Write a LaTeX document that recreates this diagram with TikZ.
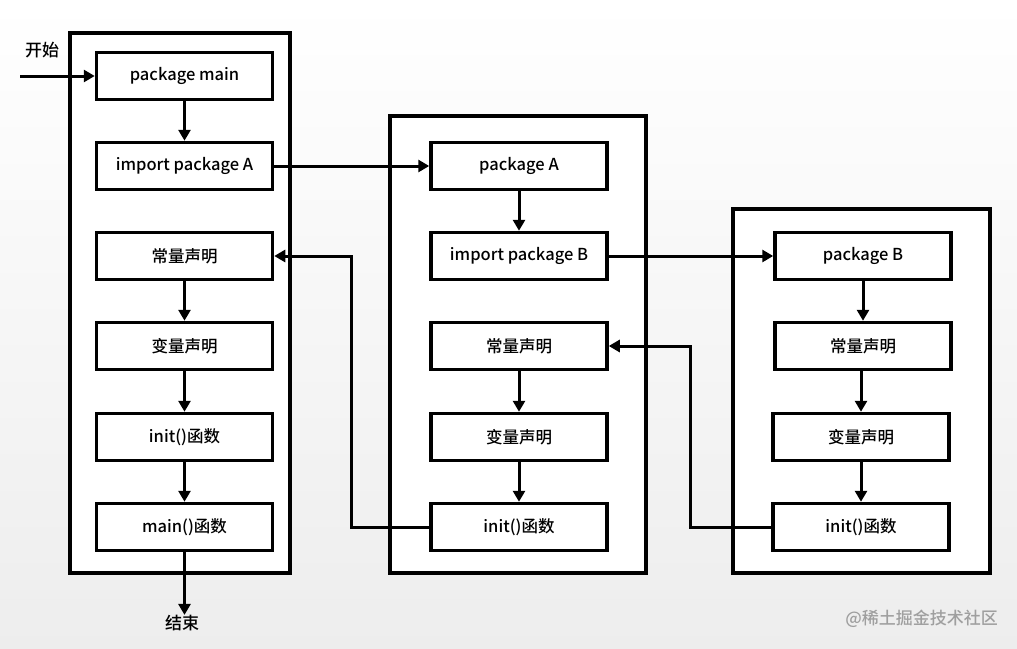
\documentclass[tikz,border=0pt]{standalone}
\usepackage{fontspec}
\setmainfont{Noto Sans CJK SC}[UprightFont=* Medium]
\usetikzlibrary{arrows.meta}
\begin{document}
\begin{tikzpicture}[x=1pt,y=-1pt,
  stepbox/.style={draw, line width=3.5pt, fill=white, minimum width=176pt, minimum height=47pt, inner sep=0pt, font=\fontsize{16.5}{18}\selectfont},
  outerbox/.style={draw, line width=3.5pt, fill=white},
  arr/.style={line width=3pt, -{Triangle[length=11pt,width=12pt]}},
  lbl/.style={font=\fontsize{17}{19}\selectfont, inner sep=0pt}]
\shade[top color=white, bottom color=gray!14] (0,0) rectangle (1017,648);
\useasboundingbox (0,0) rectangle (1017,648);
% outer containers
\draw[outerbox] (70,33) rectangle (290,573);
\draw[outerbox] (390,116) rectangle (646,573);
\draw[outerbox] (733,209) rectangle (990,573);
% column 1
\node[stepbox] (c1pkg) at (184.5,76) {package main};
\node[stepbox] (c1imp) at (184.5,166) {import package A};
\node[stepbox] (c1const) at (184.5,256) {常量声明};
\node[stepbox] (c1var) at (184.5,346) {变量声明};
\node[stepbox] (c1init) at (184.5,437) {init()函数};
\node[stepbox] (c1main) at (184.5,527) {main()函数};
% column 2
\node[stepbox] (c2pkg) at (519,166) {package A};
\node[stepbox] (c2imp) at (519,256) {import package B};
\node[stepbox] (c2const) at (519,346) {常量声明};
\node[stepbox] (c2var) at (519,437) {变量声明};
\node[stepbox] (c2init) at (519,527) {init()函数};
% column 3
\node[stepbox] (c3pkg) at (863,256) {package B};
\node[stepbox] (c3const) at (863,346) {常量声明};
\node[stepbox] (c3var) at (861,437) {变量声明};
\node[stepbox] (c3init) at (861,527) {init()函数};
% start / end
\node[lbl] (start) at (42,50) {开始};
\coordinate (startpt) at (20,76);
\node[lbl] (end) at (182,623) {结束};
\draw[arr] (startpt) -- (c1pkg.west);
\draw[arr] (c1main.south) -- (c1main.south |- end.north);
% vertical flows
\draw[arr] (c1pkg) -- (c1imp);
\draw[arr] (c1const) -- (c1var);
\draw[arr] (c1var) -- (c1init);
\draw[arr] (c1init) -- (c1main);
\draw[arr] (c2pkg) -- (c2imp);
\draw[arr] (c2const) -- (c2var);
\draw[arr] (c2var) -- (c2init);
\draw[arr] (c3pkg) -- (c3const);
\draw[arr] (c3const.south -| c3var) -- (c3var);
\draw[arr] (c3var) -- (c3init);
% imports
\draw[arr] (c1imp.east) -- (c2pkg.west);
\draw[arr] (c2imp.east) -- (c3pkg.west);
% returns
\draw[arr] (c2init.west) -- ++(-78,0) |- (c1const.east);
\draw[arr] (c3init.west) -- ++(-81,0) |- (c2const.east);
% watermark
\node[font=\fontsize{17}{19}\selectfont, text=gray!75, anchor=east, inner sep=0pt] (wm) at (998,619) {@稀土掘金技术社区};
\end{tikzpicture}
\end{document}
